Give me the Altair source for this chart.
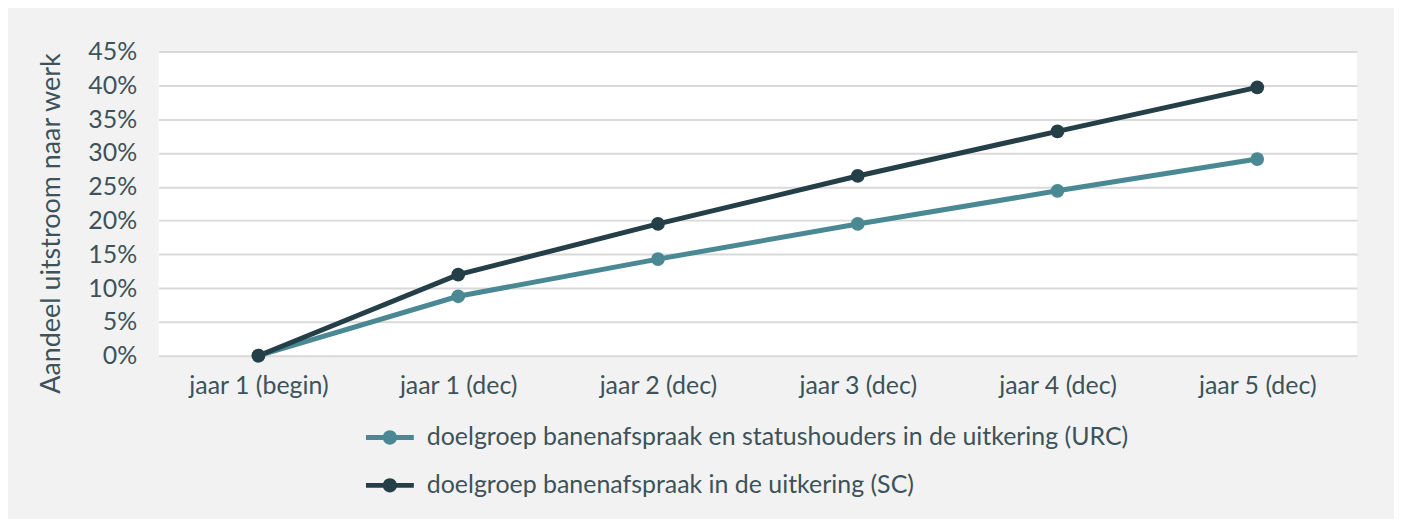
import altair as alt
import pandas as pd

categories = ["jaar 1 (begin)", "jaar 1 (dec)", "jaar 2 (dec)", "jaar 3 (dec)", "jaar 4 (dec)", "jaar 5 (dec)"]
series_names = [
    "doelgroep banenafspraak en statushouders in de uitkering (URC)",
    "doelgroep banenafspraak in de uitkering (SC)",
]
urc = [0.0, 0.088, 0.143, 0.195, 0.244, 0.291]
sc = [0.0, 0.120, 0.195, 0.266, 0.332, 0.397]
colors = ["#4a8894", "#243f47"]

rows = []
for name, vals in zip(series_names, [urc, sc]):
    for c, v in zip(categories, vals):
        rows.append({"cat": c, "val": v, "series": name})
df = pd.DataFrame(rows)

FONT = "Lato"
TXT = "#3d5259"

legend_path = ("M-1,-0.1 L1,-0.1 L1,0.1 L-1,0.1 Z "
               "M-0.3,0 A0.3,0.3 0 1,1 0.3,0 A0.3,0.3 0 1,1 -0.3,0 Z")

color = alt.Color(
    "series:N",
    scale=alt.Scale(domain=series_names, range=colors),
    legend=alt.Legend(
        title=None,
        orient="none",
        legendX=208,
        legendY=363,
        direction="vertical",
        symbolType=legend_path,
        symbolSize=2304,
        symbolStrokeWidth=0,
        labelFont=FONT,
        labelFontSize=25,
        labelColor=TXT,
        rowPadding=11,
        labelOffset=13,
        labelLimit=1000,
    ),
)

x = alt.X(
    "cat:N",
    sort=categories,
    scale=alt.Scale(paddingInner=0, paddingOuter=0),
    axis=alt.Axis(
        title=None, labelAngle=0, ticks=False, domain=False, grid=False,
        labelFont=FONT, labelFontSize=25, labelColor=TXT, labelPadding=18,
    ),
)
y = alt.Y(
    "val:Q",
    scale=alt.Scale(domain=[0, 0.45]),
    axis=alt.Axis(
        title="Aandeel uitstroom naar werk",
        values=[i * 0.05 for i in range(10)],
        format=".0%",
        ticks=False, domain=False,
        gridColor="#d9d9d9", gridWidth=2,
        labelFont=FONT, labelFontSize=25, labelColor=TXT, labelPadding=22,
        titleFont=FONT, titleFontSize=27, titleFontWeight="normal", titleColor=TXT,
        titleX=-107, titleY=172, titleAngle=-90, titleAlign="center", titleBaseline="middle",
    ),
)

base = alt.Chart(df)
lines = base.mark_line(strokeWidth=5).encode(x=x, y=y, color=color, order=alt.Order("series:N"))
points = base.mark_circle(size=190, opacity=1).encode(x=x, y=y, color=color)

chart = alt.layer(lines, points).properties(
    width=1202,
    height=305,
    background="#f2f2f2",
    padding={"left": 151, "top": 43, "right": 37, "bottom": 163},
    autosize=alt.AutoSizeParams(type="none"),
).configure_view(fill="white", stroke=None)

chart.save("out.html", embed_options={"renderer": "svg", "actions": False})
